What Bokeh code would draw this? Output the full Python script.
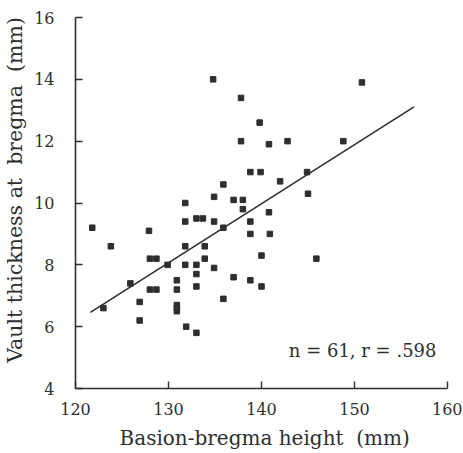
from bokeh.plotting import figure
from bokeh.models import Range1d, FixedTicker, Label
from bokeh.embed import file_html
from bokeh.resources import INLINE

# Basion-bregma height (mm)
height_mm = [134.8, 137.8, 139.8, 137.8, 140.8, 142.8, 138.8, 139.9, 144.9, 135.9,
             142.0, 134.9, 137.0, 138.0, 145.0, 150.8, 148.8, 131.8, 138.0, 131.8,
             133.0, 133.7, 134.9, 138.8, 138.8, 135.9, 121.8, 127.9, 123.8, 131.8,
             133.9, 140.0, 128.0, 128.7, 129.9, 131.8, 133.0, 133.9, 134.9, 137.0,
             138.8, 140.0, 130.9, 133.0, 133.0, 125.9, 128.0, 128.7, 130.9, 135.9,
             123.0, 126.9, 130.9, 130.9, 130.9, 126.9, 131.9, 133.0, 140.8, 140.9,
             145.9]
# Vault thickness at bregma (mm)
thickness_mm = [14.0, 13.4, 12.6, 12.0, 11.9, 12.0, 11.0, 11.0, 11.0, 10.6,
                10.7, 10.2, 10.1, 10.1, 10.3, 13.9, 12.0, 10.0, 9.8, 9.4,
                9.5, 9.5, 9.4, 9.4, 9.0, 9.2, 9.2, 9.1, 8.6, 8.6,
                8.6, 8.3, 8.2, 8.2, 8.0, 8.0, 8.0, 8.2, 7.9, 7.6,
                7.5, 7.3, 7.5, 7.7, 7.3, 7.4, 7.2, 7.2, 7.2, 6.9,
                6.6, 6.8, 6.7, 6.6, 6.5, 6.2, 6.0, 5.8, 9.7, 9.0,
                8.2]

# regression line end points
fit_x = [121.6, 156.4]
fit_y = [6.46, 13.11]

x_ticks = [120, 130, 140, 150, 160]
y_ticks = [4, 6, 8, 10, 12, 14, 16]

NB = "\u00a0"
x_label = NB + "Basion-bregma height " + NB + "(mm)"
y_label = NB * 4 + "Vault thickness at " + NB + "bregma " + NB + "(mm)"
stats_text = "n = 61, r = .598"

FONT = "DejaVu Serif"
INK = "#2e2e2e"

p = figure(width=462, height=452, output_backend="svg", toolbar_location=None,
           x_range=Range1d(120, 160), y_range=Range1d(4, 16),
           min_border_left=74, min_border_right=15, min_border_top=17, min_border_bottom=64)
p.outline_line_color = None
p.grid.visible = False
p.background_fill_color = "white"
p.border_fill_color = "white"

for ax, ticks in ((p.xaxis, x_ticks), (p.yaxis, y_ticks)):
    ax.ticker = FixedTicker(ticks=ticks)
    ax.major_tick_in = 7
    ax.major_tick_out = 0
    ax.minor_tick_line_color = None
    ax.axis_line_color = INK
    ax.axis_line_width = 1.6
    ax.major_tick_line_color = INK
    ax.major_tick_line_width = 1.4
    ax.major_label_text_font = FONT
    ax.major_label_text_font_size = "16px"
    ax.major_label_text_color = INK
    ax.axis_label_text_font = FONT
    ax.axis_label_text_font_style = "normal"
    ax.axis_label_text_color = INK

p.xaxis.major_label_standoff = 14
p.yaxis.major_label_standoff = 21
p.xaxis.axis_label = x_label
p.yaxis.axis_label = y_label
p.xaxis.axis_label_text_font_size = "20px"
p.yaxis.axis_label_text_font_size = "20.5px"
p.xaxis.axis_label_standoff = 8
p.yaxis.axis_label_standoff = 4

p.line(fit_x, fit_y, line_color=INK, line_width=1.6)
p.scatter(height_mm, thickness_mm, marker="square", size=5.5,
          fill_color=INK, line_color=INK)

p.add_layout(Label(x=361, y=38, x_units="screen", y_units="screen",
                   text=stats_text, text_font=FONT, text_font_size="18px",
                   text_color=INK, text_align="right", text_baseline="alphabetic"))

open("out.html", "w").write(file_html(p, INLINE))
